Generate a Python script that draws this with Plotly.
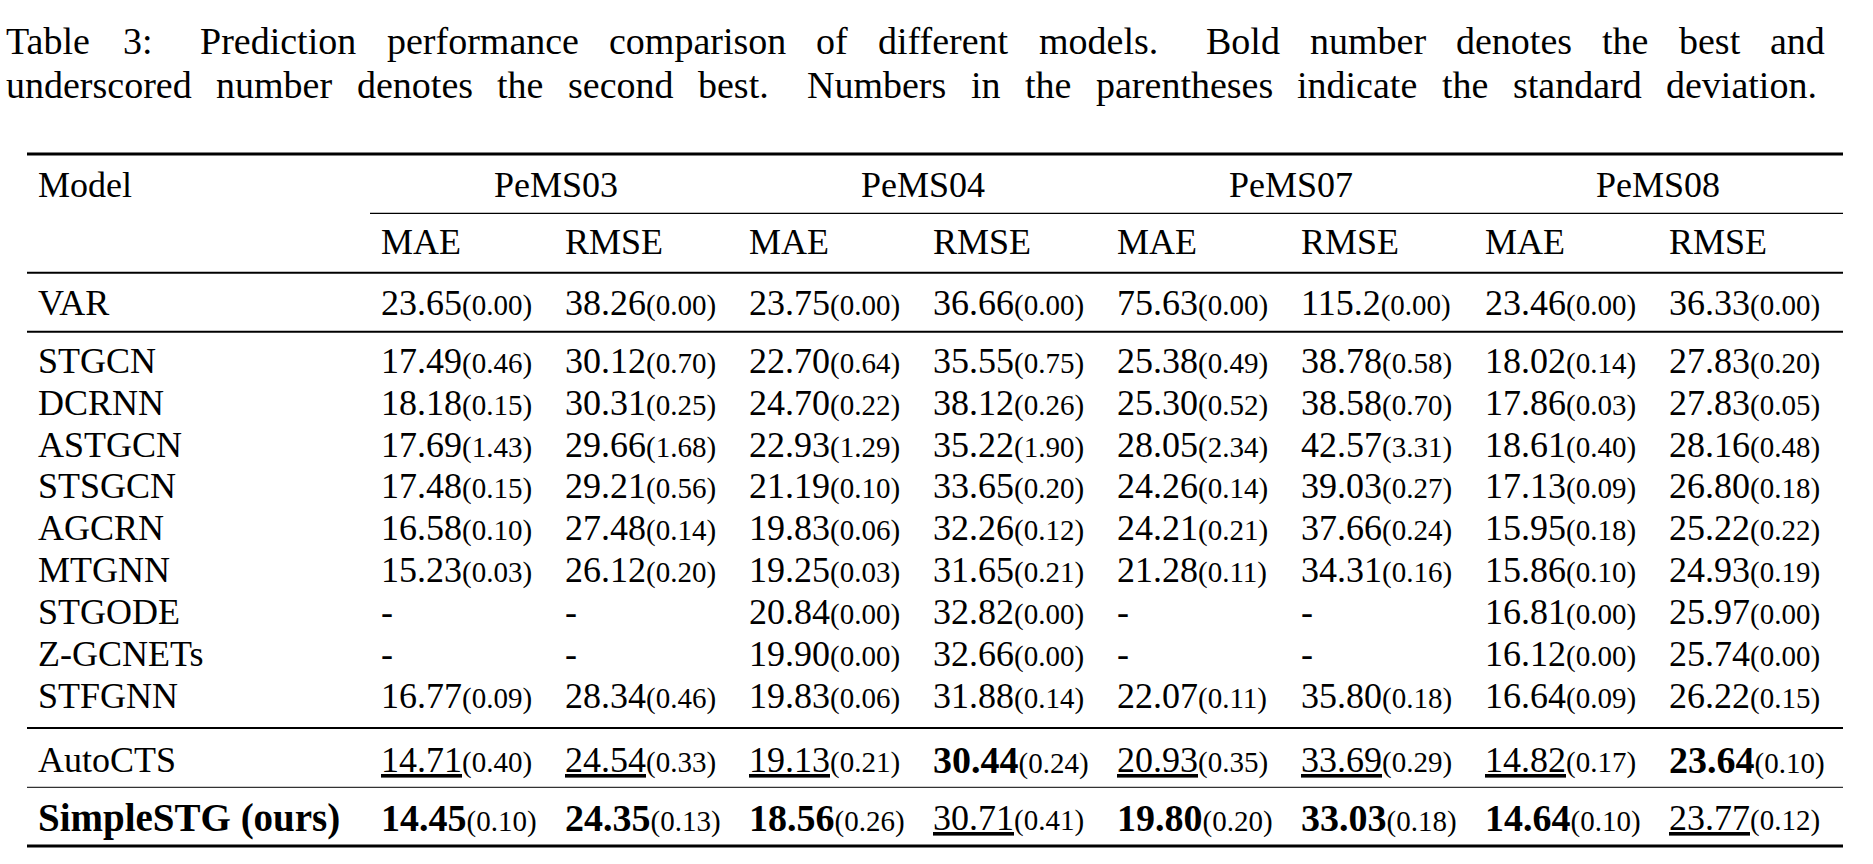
import plotly.graph_objects as go

W, H = 1873, 864

# ---------------- data ----------------
caption_line1 = ["Table", "3:", "Prediction", "performance", "comparison", "of", "different",
                 "models.", "Bold", "number", "denotes", "the", "best", "and"]
caption_line2 = ["underscored", "number", "denotes", "the", "second", "best.", "Numbers", "in",
                 "the", "parentheses", "indicate", "the", "standard", "deviation."]

datasets = ["PeMS03", "PeMS04", "PeMS07", "PeMS08"]
metrics = ["MAE", "RMSE"]
models = ["VAR", "STGCN", "DCRNN", "ASTGCN", "STSGCN", "AGCRN", "MTGNN", "STGODE",
          "Z-GCNETs", "STFGNN", "AutoCTS", "SimpleSTG (ours)"]

pems03_mae = [23.65, 17.49, 18.18, 17.69, 17.48, 16.58, 15.23, None, None, 16.77, 14.71, 14.45]
pems03_mae_std = [0.00, 0.46, 0.15, 1.43, 0.15, 0.10, 0.03, None, None, 0.09, 0.40, 0.10]
pems03_rmse = [38.26, 30.12, 30.31, 29.66, 29.21, 27.48, 26.12, None, None, 28.34, 24.54, 24.35]
pems03_rmse_std = [0.00, 0.70, 0.25, 1.68, 0.56, 0.14, 0.20, None, None, 0.46, 0.33, 0.13]
pems04_mae = [23.75, 22.70, 24.70, 22.93, 21.19, 19.83, 19.25, 20.84, 19.90, 19.83, 19.13, 18.56]
pems04_mae_std = [0.00, 0.64, 0.22, 1.29, 0.10, 0.06, 0.03, 0.00, 0.00, 0.06, 0.21, 0.26]
pems04_rmse = [36.66, 35.55, 38.12, 35.22, 33.65, 32.26, 31.65, 32.82, 32.66, 31.88, 30.44, 30.71]
pems04_rmse_std = [0.00, 0.75, 0.26, 1.90, 0.20, 0.12, 0.21, 0.00, 0.00, 0.14, 0.24, 0.41]
pems07_mae = [75.63, 25.38, 25.30, 28.05, 24.26, 24.21, 21.28, None, None, 22.07, 20.93, 19.80]
pems07_mae_std = [0.00, 0.49, 0.52, 2.34, 0.14, 0.21, 0.11, None, None, 0.11, 0.35, 0.20]
pems07_rmse = [115.2, 38.78, 38.58, 42.57, 39.03, 37.66, 34.31, None, None, 35.80, 33.69, 33.03]
pems07_rmse_std = [0.00, 0.58, 0.70, 3.31, 0.27, 0.24, 0.16, None, None, 0.18, 0.29, 0.18]
pems08_mae = [23.46, 18.02, 17.86, 18.61, 17.13, 15.95, 15.86, 16.81, 16.12, 16.64, 14.82, 14.64]
pems08_mae_std = [0.00, 0.14, 0.03, 0.40, 0.09, 0.18, 0.10, 0.00, 0.00, 0.09, 0.17, 0.10]
pems08_rmse = [36.33, 27.83, 27.83, 28.16, 26.80, 25.22, 24.93, 25.97, 25.74, 26.22, 23.64, 23.77]
pems08_rmse_std = [0.00, 0.20, 0.05, 0.48, 0.18, 0.22, 0.19, 0.00, 0.00, 0.15, 0.10, 0.12]

columns = [
    (pems03_mae, pems03_mae_std), (pems03_rmse, pems03_rmse_std),
    (pems04_mae, pems04_mae_std), (pems04_rmse, pems04_rmse_std),
    (pems07_mae, pems07_mae_std), (pems07_rmse, pems07_rmse_std),
    (pems08_mae, pems08_mae_std), (pems08_rmse, pems08_rmse_std),
]

# ---------------- layout constants ----------------
FONT = "Liberation Serif"
MAIN = 36
BOLD = 38
SMALL = 29
CAP = 38
OURS = 39

cap_left = 5
cap1_right, cap2_right = 1824, 1816
cap1_y, cap2_y = 41, 85

table_left, table_right = 27, 1843
model_x = 37
col_x0, col_step = 380, 184
group_c0, group_step = 556, 367.3
cmid_left = 370

y_head1, y_head2 = 184.5, 242
y_var = 302.5
body_y0, body_step = 360.8, 41.86
y_auto, y_ours = 759.5, 817.5

rules = [  # (y, width, color)
    (154, 3.0, "black"),
    (272.7, 2.0, "black"),
    (331.7, 2.0, "black"),
    (727.9, 2.0, "black"),
    (787.3, 1.3, "#333"),
    (846, 3.0, "black"),
]

row_y = [y_var] + [body_y0 + i * body_step for i in range(9)] + [y_auto, y_ours]

# Times / Liberation Serif advance widths (1/1000 em) for justifying the caption
_TW = dict(zip("abcdefghijklmnopqrstuvwxyz",
               [444, 500, 444, 500, 444, 333, 500, 500, 278, 278, 500, 278, 778,
                500, 500, 500, 500, 333, 389, 278, 500, 500, 722, 500, 500, 444]))
_TW.update(dict(zip("ABCDEFGHIJKLMNOPQRSTUVWXYZ",
                    [722, 667, 667, 722, 611, 556, 722, 722, 333, 389, 722, 611, 889,
                     722, 722, 556, 722, 667, 556, 611, 722, 722, 944, 722, 722, 611])))
_TW.update({".": 250, ":": 278, ",": 250, "3": 500})


def word_w(w, size):
    return sum(_TW.get(ch, 500) for ch in w) / 1000.0 * size


def justify(words, left, right, size):
    widths = [word_w(w, size) for w in words]
    weights = [1.6 if w.endswith((".", ":")) else 1.0 for w in words[:-1]]
    gap_unit = (right - left - sum(widths)) / sum(weights)
    xs, x = [], left
    for i, w in enumerate(widths):
        xs.append(x)
        if i < len(weights):
            x += w + gap_unit * weights[i]
    return xs


def fmt(v):
    return f"{v:.1f}" if v >= 100 else f"{v:.2f}"


annotations = []


def add(text, x, y, size=MAIN, xanchor="left"):
    annotations.append(dict(text=text, x=x, y=y, xref="x", yref="y", xanchor=xanchor,
                            yanchor="middle", showarrow=False, borderpad=0,
                            font=dict(family=FONT, size=size, color="black")))


for w, x in zip(caption_line1, justify(caption_line1, cap_left, cap1_right, CAP)):
    add(w, x, cap1_y, CAP)
for w, x in zip(caption_line2, justify(caption_line2, cap_left, cap2_right, CAP)):
    add(w, x, cap2_y, CAP)

add("Model", model_x, y_head1)
for g, name in enumerate(datasets):
    add(name, group_c0 + g * group_step, y_head1, xanchor="center")
for c in range(8):
    add(metrics[c % 2], col_x0 + c * col_step, y_head2)

for r, m in enumerate(models):
    if "ours" in m:
        add(f"<b>{m}</b>", model_x, row_y[r], size=OURS)
    else:
        add(m, model_x, row_y[r])

for c, (vals, stds) in enumerate(columns):
    present = sorted(v for v in vals if v is not None)
    best, second = present[0], present[1]
    for r, (v, s) in enumerate(zip(vals, stds)):
        x = col_x0 + c * col_step
        if v is None:
            add("-", x, row_y[r])
            continue
        num = fmt(v)
        if v == best:
            num = f"<b><span style='font-size:{BOLD}px'>{num}</span></b>"
        elif v == second:
            num = f"<u>{num}</u>"
        txt = f"{num}<span style='font-size:{SMALL}px'>({s:.2f})</span>"
        add(txt, x, row_y[r])

shapes = []
for y, w, col in rules:
    shapes.append(dict(type="line", xref="x", yref="y", x0=table_left, x1=table_right,
                       y0=y, y1=y, line=dict(color=col, width=w)))
shapes.append(dict(type="line", xref="x", yref="y", x0=cmid_left, x1=table_right,
                   y0=213.3, y1=213.3, line=dict(color="black", width=1.3)))

fig = go.Figure()
fig.update_layout(
    width=W, height=H,
    margin=dict(l=0, r=0, t=0, b=0),
    paper_bgcolor="white", plot_bgcolor="white",
    xaxis=dict(range=[0, W], visible=False, fixedrange=True),
    yaxis=dict(range=[H, 0], visible=False, fixedrange=True),
    annotations=annotations,
    shapes=shapes,
    showlegend=False,
)
fig.write_html("out.html", config={"displayModeBar": False},
               post_script="document.body.style.margin='0px';document.body.style.overflow='hidden';")
